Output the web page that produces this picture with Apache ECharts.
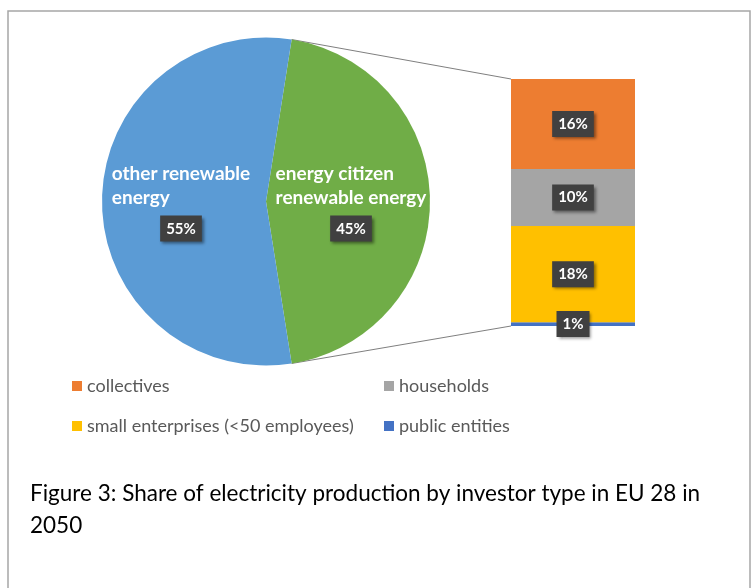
<!DOCTYPE html>
<html>
<head>
<meta charset="utf-8">
<script src="https://cdn.jsdelivr.net/npm/echarts@6/dist/echarts.min.js"></script>
<style>
  html, body { margin: 0; padding: 0; background: #fff; }
  #chart { width: 755px; height: 588px; }
</style>
</head>
<body>
<div id="chart"></div>
<script>
// ---- data ----
const pieNames = ['energy citizen renewable energy', 'other renewable energy'];
const pieLabelText = ['energy citizen\nrenewable energy', 'other renewable\nenergy'];
const pieValues = [45, 55];
const pieColors = ['#70AD47', '#5B9BD5'];

const investorTypes = ['collectives', 'households', 'small enterprises (<50 employees)', 'public entities'];
const investorShares = [16.4, 10.4, 17.5, 0.7];
const investorColors = ['#ED7D31', '#A5A5A5', '#FFC000', '#4472C4'];

const captionText = 'Figure 3: Share of electricity production by investor type in EU 28 in\n2050';

// ---- chart ----
const FONT = 'Lato, "Open Sans", sans-serif';
const chart = echarts.init(document.getElementById('chart'), null, { renderer: 'canvas' });

const pieTotal = pieValues.reduce((a, b) => a + b, 0);
const startAngle = pieValues[0] / pieTotal * 180;
const pieCenter = [266, 201.5];
const pieRadius = 164;

const boxStyle = {
  backgroundColor: '#404040',
  color: '#fff',
  fontWeight: 'bold',
  fontSize: 15,
  fontFamily: FONT,
  padding: [6, 6, 5, 6],
  shadowColor: 'rgba(0,0,0,0.45)',
  shadowBlur: 3,
  shadowOffsetX: 2,
  shadowOffsetY: 2
};

// stacked bar series: bottom first
const barSeries = [];
for (let i = investorTypes.length - 1; i >= 0; i--) {
  barSeries.push({
    type: 'bar',
    name: investorTypes[i],
    stack: 'total',
    xAxisIndex: 0,
    yAxisIndex: 0,
    barWidth: '100%',
    barCategoryGap: 0,
    itemStyle: { color: investorColors[i] },
    emphasis: { disabled: true },
    silent: true,
    label: Object.assign({
      show: true,
      position: 'inside',
      formatter: p => Math.round(p.value) + '%'
    }, boxStyle),
    data: [investorShares[i]]
  });
}

const barTotal = investorShares.reduce((a, b) => a + b, 0);

const legendText = { fontFamily: FONT, fontSize: 18, color: '#595959', lineHeight: 18 };

const option = {
  animation: false,
  backgroundColor: '#fff',
  title: {
    text: captionText,
    left: 30,
    top: 478,
    padding: 0,
    textStyle: {
      fontFamily: FONT,
      fontSize: 22.5,
      fontWeight: 'normal',
      color: '#000',
      lineHeight: 32
    }
  },
  legend: [
    {
      data: [investorTypes[0], investorTypes[2]],
      orient: 'vertical',
      left: 72,
      top: 377,
      padding: 0,
      itemGap: 22,
      itemWidth: 10,
      itemHeight: 10,
      icon: 'rect',
      selectedMode: false,
      textStyle: legendText
    },
    {
      data: [investorTypes[1], investorTypes[3]],
      orient: 'vertical',
      left: 384,
      top: 377,
      padding: 0,
      itemGap: 22,
      itemWidth: 10,
      itemHeight: 10,
      icon: 'rect',
      selectedMode: false,
      textStyle: legendText
    }
  ],
  grid: { left: 511, top: 79, width: 124, height: 247, containLabel: false },
  xAxis: { type: 'category', data: ['investors'], show: false },
  yAxis: { type: 'value', min: 0, max: barTotal, show: false },
  series: [
    {
      type: 'pie',
      center: pieCenter,
      radius: pieRadius,
      startAngle: startAngle,
      clockwise: true,
      silent: true,
      emphasis: { disabled: true },
      labelLine: { show: false },
      itemStyle: { borderWidth: 0 },
      label: {
        show: true,
        position: 'inside',
        formatter: p => '{name|' + pieLabelText[p.dataIndex] + '}\n{sp| }\n{pct|' + p.value + '%}',
        rich: {
          name: { color: '#fff', fontWeight: 'bold', fontSize: 19, lineHeight: 24, fontFamily: FONT, align: 'left' },
          sp: { fontSize: 1, lineHeight: 6 },
          pct: Object.assign({ align: 'center' }, boxStyle)
        }
      },
      data: pieNames.map((n, i) => ({ name: n, value: pieValues[i], itemStyle: { color: pieColors[i] } }))
    }
  ].concat(barSeries)
};

chart.setOption(option);

// connector lines from pie split points to bar corners
const grid = chart.getModel().getComponent('grid', 0).coordinateSystem.getRect();
const topBar = chart.convertToPixel({ xAxisIndex: 0, yAxisIndex: 0 }, [0, barTotal]);
const botBar = chart.convertToPixel({ xAxisIndex: 0, yAxisIndex: 0 }, [0, 0]);
const a = startAngle * Math.PI / 180;
const p1 = [pieCenter[0] + pieRadius * Math.cos(a), pieCenter[1] - pieRadius * Math.sin(a)];
const p2 = [pieCenter[0] + pieRadius * Math.cos(-a), pieCenter[1] - pieRadius * Math.sin(-a)];

chart.setOption({
  graphic: [
    {
      type: 'rect',
      shape: { x: 8, y: 11, width: 742, height: 600 },
      style: { fill: 'none', stroke: '#a6a6a6', lineWidth: 1.5 },
      silent: true,
      z: -1
    },
    {
      type: 'line',
      shape: { x1: p1[0], y1: p1[1], x2: grid.x, y2: topBar[1] },
      style: { stroke: '#7f7f7f', lineWidth: 1 },
      silent: true
    },
    {
      type: 'line',
      shape: { x1: p2[0], y1: p2[1], x2: grid.x, y2: botBar[1] },
      style: { stroke: '#7f7f7f', lineWidth: 1 },
      silent: true
    }
  ]
});
</script>
</body>
</html>
